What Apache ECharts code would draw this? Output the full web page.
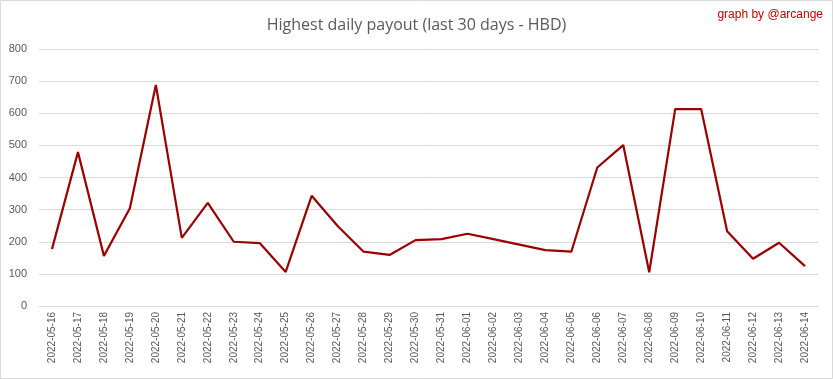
<!DOCTYPE html>
<html><head><meta charset="utf-8">
<script src="https://cdn.jsdelivr.net/npm/echarts@6/dist/echarts.min.js"></script>
<style>html,body{margin:0;padding:0;background:#fff}#c{width:833px;height:379px}</style>
</head><body><div id="c"></div>
<script>
const categories = ["2022-05-16","2022-05-17","2022-05-18","2022-05-19","2022-05-20","2022-05-21","2022-05-22","2022-05-23","2022-05-24","2022-05-25","2022-05-26","2022-05-27","2022-05-28","2022-05-29","2022-05-30","2022-05-31","2022-06-01","2022-06-02","2022-06-03","2022-06-04","2022-06-05","2022-06-06","2022-06-07","2022-06-08","2022-06-09","2022-06-10","2022-06-11","2022-06-12","2022-06-13","2022-06-14"];
const payout = [177,479,156,304,688,212,321,200,196,106,343,249,169,159,205,208,225,208,191,174,169,431,501,105,613,613,233,147,197,124];
const titleText = "Highest daily payout (last 30 days - HBD)";
const creditText = "graph by @arcange";

const chart = echarts.init(document.getElementById('c'), null, {renderer:'canvas'});
chart.setOption({
  animation:false,
  backgroundColor:'#fff',
  title:{text:titleText,left:'center',top:12,textStyle:{fontFamily:'Open Sans',fontSize:16,fontWeight:'normal',color:'#595959'}},
  graphic:[
    {type:'rect',shape:{x:0.5,y:0.5,width:832,height:378},style:{fill:'none',stroke:'#d9d9d9',lineWidth:1}},
    {type:'text',right:10,top:9,style:{text:creditText,fill:'#c00000',font:'12px "Liberation Sans"'}}
  ],
  grid:{left:39,right:15,top:49,bottom:73},
  xAxis:{type:'category',data:categories,boundaryGap:true,
    axisLine:{lineStyle:{color:'#d9d9d9'}},axisTick:{show:false},
    axisLabel:{rotate:90,interval:0,margin:6,color:'#595959',fontFamily:'Liberation Sans',fontSize:10}},
  yAxis:{type:'value',min:0,max:800,interval:100,
    axisLine:{show:false},axisTick:{show:false},
    axisLabel:{color:'#595959',fontFamily:'Liberation Sans',fontSize:11,margin:12},
    splitLine:{lineStyle:{color:'#d9d9d9',width:1}}},
  series:[{type:'line',data:payout,symbol:'none',lineStyle:{color:'#9b0000',width:2.2},itemStyle:{color:'#9b0000'}}]
});
</script></body></html>
